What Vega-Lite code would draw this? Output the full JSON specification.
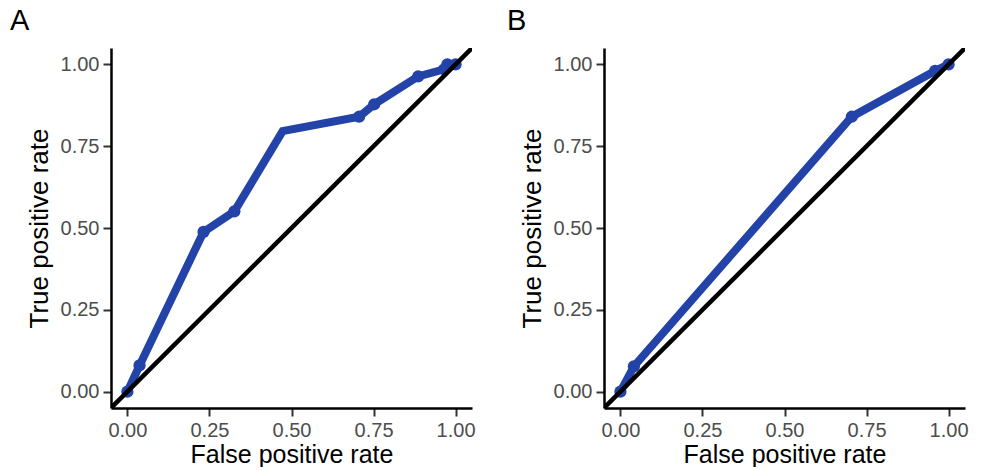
{
  "$schema": "https://vega.github.io/schema/vega-lite/v6.json",
  "background": "white",
  "padding": {"left": 10, "top": 7, "right": 0, "bottom": 0},
  "spacing": 31,
  "config": {
    "view": {"stroke": null},
    "font": "Liberation Sans",
    "axis": {
      "grid": false,
      "domainColor": "black",
      "domainWidth": 2.5,
      "tickColor": "#333333",
      "tickWidth": 2,
      "tickSize": 8,
      "labelColor": "#4D4D4D",
      "labelFontSize": 20,
      "labelFont": "Liberation Sans",
      "labelPadding": 4,
      "titleFont": "Liberation Sans",
      "titleFontSize": 26,
      "titleFontWeight": "normal",
      "titleColor": "black"
    },
    "title": {"font": "Liberation Sans", "fontSize": 29, "fontWeight": "normal", "anchor": "start", "color": "black"}
  },
  "datasets": {
    "rocA": [
      {"fpr": 0.0, "tpr": 0.0, "i": 0, "pt": true},
      {"fpr": 0.037, "tpr": 0.08, "i": 1, "pt": true},
      {"fpr": 0.232, "tpr": 0.488, "i": 2, "pt": true},
      {"fpr": 0.326, "tpr": 0.551, "i": 3, "pt": true},
      {"fpr": 0.473, "tpr": 0.796, "i": 4, "pt": false},
      {"fpr": 0.706, "tpr": 0.84, "i": 5, "pt": true},
      {"fpr": 0.752, "tpr": 0.878, "i": 6, "pt": true},
      {"fpr": 0.886, "tpr": 0.963, "i": 7, "pt": true},
      {"fpr": 0.965, "tpr": 0.985, "i": 8, "pt": true},
      {"fpr": 0.975, "tpr": 1.0, "i": 9, "pt": true},
      {"fpr": 1.0, "tpr": 1.0, "i": 10, "pt": true}
    ],
    "rocB": [
      {"fpr": 0.0, "tpr": 0.0, "i": 0, "pt": true},
      {"fpr": 0.041, "tpr": 0.077, "i": 1, "pt": true},
      {"fpr": 0.705, "tpr": 0.84, "i": 2, "pt": true},
      {"fpr": 0.959, "tpr": 0.98, "i": 3, "pt": true},
      {"fpr": 1.0, "tpr": 1.0, "i": 4, "pt": true}
    ],
    "diag": [
      {"fpr": -0.05, "tpr": -0.05},
      {"fpr": 1.05, "tpr": 1.05}
    ]
  },
  "hconcat": [
    {
      "title": {"text": "A", "dx": -16, "offset": 12},
      "width": 361,
      "height": 360,
      "layer": [
        {
          "data": {"name": "rocA"},
          "mark": {"type": "line", "color": "#2343A8", "strokeWidth": 8, "clip": true},
          "encoding": {
            "x": {"field": "fpr", "type": "quantitative"},
            "y": {"field": "tpr", "type": "quantitative"},
            "order": {"field": "i", "type": "quantitative"}
          }
        },
        {
          "data": {"name": "rocA"},
          "transform": [{"filter": "datum.pt"}],
          "mark": {"type": "circle", "color": "#2343A8", "opacity": 1, "size": 150},
          "encoding": {
            "x": {"field": "fpr", "type": "quantitative"},
            "y": {"field": "tpr", "type": "quantitative"}
          }
        },
        {
          "data": {"name": "diag"},
          "mark": {"type": "line", "color": "black", "strokeWidth": 4.5, "clip": true},
          "encoding": {
            "x": {"field": "fpr", "type": "quantitative", "scale": {"domain": [-0.05, 1.05], "nice": false, "zero": false}, "axis": {"title": "False positive rate", "values": [0, 0.25, 0.5, 0.75, 1], "format": ".2f", "titlePadding": 2, "titleFontSize": 25}},
            "y": {"field": "tpr", "type": "quantitative", "scale": {"domain": [-0.05, 1.05], "nice": false, "zero": false}, "axis": {"title": "True positive rate", "values": [0, 0.25, 0.5, 0.75, 1], "format": ".2f", "titlePadding": 8}}
          }
        }
      ]
    },
    {
      "title": {"text": "B", "dx": -12, "offset": 12},
      "width": 361,
      "height": 360,
      "layer": [
        {
          "data": {"name": "rocB"},
          "mark": {"type": "line", "color": "#2343A8", "strokeWidth": 8, "clip": true},
          "encoding": {
            "x": {"field": "fpr", "type": "quantitative"},
            "y": {"field": "tpr", "type": "quantitative"},
            "order": {"field": "i", "type": "quantitative"}
          }
        },
        {
          "data": {"name": "rocB"},
          "transform": [{"filter": "datum.pt"}],
          "mark": {"type": "circle", "color": "#2343A8", "opacity": 1, "size": 150},
          "encoding": {
            "x": {"field": "fpr", "type": "quantitative"},
            "y": {"field": "tpr", "type": "quantitative"}
          }
        },
        {
          "data": {"name": "diag"},
          "mark": {"type": "line", "color": "black", "strokeWidth": 4.5, "clip": true},
          "encoding": {
            "x": {"field": "fpr", "type": "quantitative", "scale": {"domain": [-0.05, 1.05], "nice": false, "zero": false}, "axis": {"title": "False positive rate", "values": [0, 0.25, 0.5, 0.75, 1], "format": ".2f", "titlePadding": 2, "titleFontSize": 25}},
            "y": {"field": "tpr", "type": "quantitative", "scale": {"domain": [-0.05, 1.05], "nice": false, "zero": false}, "axis": {"title": "True positive rate", "values": [0, 0.25, 0.5, 0.75, 1], "format": ".2f", "titlePadding": 8}}
          }
        }
      ]
    }
  ]
}
